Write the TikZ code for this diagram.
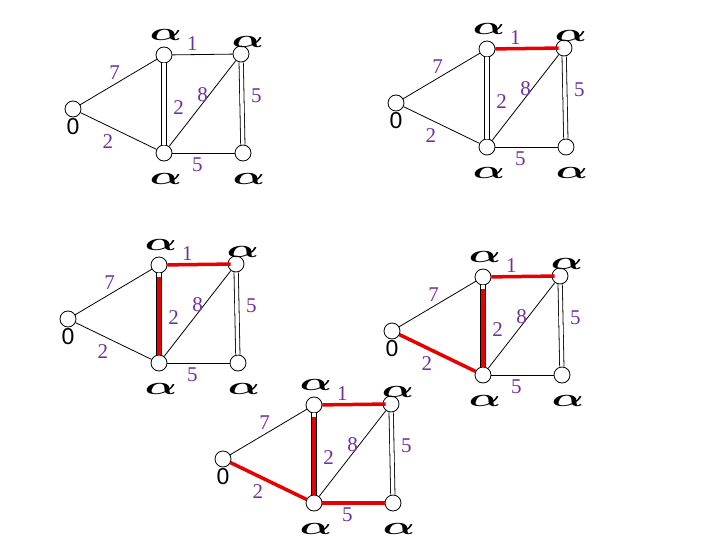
\documentclass[tikz,border=0pt]{standalone}
\usepackage{fontspec}
\setmainfont{Liberation Serif}
\newfontfamily\zerofont{Liberation Sans}
\usepackage{graphicx}
\usepackage{tikz}
\usetikzlibrary{positioning}

\definecolor{wtpurple}{RGB}{112,48,160}
\definecolor{mstred}{RGB}{232,0,0}

\tikzset{
  vertex/.style={draw, circle, fill=white, minimum size=16pt, inner sep=0pt, line width=0.8pt},
  edge/.style={line width=0.8pt},
  dbl/.style={line width=0.8pt, double, double distance=3.5pt},
  wt/.style={text=wtpurple, font=\fontsize{21}{21}\selectfont, inner sep=4pt},
  zero/.style={font=\zerofont\fontsize{23}{23}\selectfont, inner sep=1pt},
  alph/.style={inner sep=0pt, font=\fontsize{24}{24}\selectfont},
  chosen/.style={draw=mstred, line width=3.5pt},
}

\newcommand{\alphalabel}{\scalebox{1.7}[1]{\boldmath$\alpha$}}

% one copy of the graph, vertices #1a..#1e, with vertex a at (#2,#3)
\newcommand{\mstgraph}[3]{%
  \begin{scope}[shift={(#2,#3)}]
    \node[vertex] (#1a) at (0,0) {};
    \node[vertex] (#1b) at (91,-54) {};
    \node[vertex] (#1c) at (168,-55) {};
    \node[vertex] (#1d) at (91,44) {};
    \node[vertex] (#1e) at (170,44) {};
    \node[zero, below=0pt of #1a] (#1zero) {0};
    \node[alph] (#1alb) at (93,-74) {\alphalabel};
    \node[alph] (#1alc) at (175,-67) {\alphalabel};
    \node[alph] (#1ald) at (93,70) {\alphalabel};
    \node[alph] (#1ale) at (176,70) {\alphalabel};
    \draw[edge] (#1a) -- node[wt, above, pos=0.45] {7} (#1b);
    \draw[edge] (#1a) -- node[wt, below=4pt, pos=0.36] {2} (#1d);
    \draw[edge] (#1b) -- node[wt, above, pos=0.33] {1} (#1c);
    \draw[dbl] (#1b) -- node[wt, right=5pt, pos=0.54] {2} (#1d);
    \draw[edge] (#1d) -- node[wt, left, inner sep=1pt, pos=0.6] {8} (#1c);
    \draw[dbl] (#1c) -- node[wt, right=5pt, pos=0.4] {5} (#1e);
    \draw[edge] (#1d) -- node[wt, below, pos=0.4] {5} (#1e);
  \end{scope}}

\begin{document}
\begin{tikzpicture}[x=1pt, y=-1pt]
  \useasboundingbox (0,0) rectangle (720,540);
  \mstgraph{g1}{73}{109}
  \mstgraph{g2}{396}{103}
  \mstgraph{g3}{68}{319}
  \mstgraph{g4}{392}{331}
  \mstgraph{g5}{223}{459}
  % edges taken so far
  \draw[chosen, shorten >=-3pt] (g2b) -- (g2c);
  \draw[chosen, shorten >=-3pt] (g3b) -- (g3c);
  \draw[chosen, shorten <=4pt] (g3b) -- (g3d);
  \draw[chosen, shorten >=-3pt] (g4b) -- (g4c);
  \draw[chosen, shorten <=4pt] (g4b) -- (g4d);
  \draw[chosen] (g4a) -- (g4d);
  \draw[chosen, shorten >=-3pt] (g5b) -- (g5c);
  \draw[chosen, shorten <=4pt] (g5b) -- (g5d);
  \draw[chosen] (g5a) -- (g5d);
  \draw[chosen] (g5d) -- (g5e);
\end{tikzpicture}
\end{document}
